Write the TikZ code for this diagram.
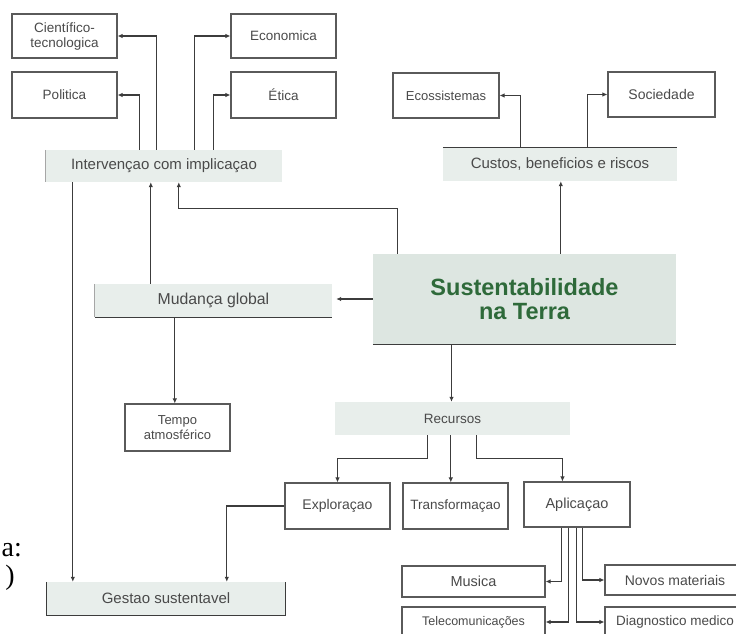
\documentclass[tikz,border=0pt]{standalone}
\usepackage{fontspec}
\setmainfont{Liberation Sans}
\newfontfamily\serifa{Liberation Serif}
\usetikzlibrary{arrows.meta}
\definecolor{linec}{HTML}{3C3C3C}
\definecolor{txt}{HTML}{4A4A4A}
\definecolor{barfill}{HTML}{E8EEEB}
\definecolor{sustfill}{HTML}{DDE6E1}
\definecolor{sustgreen}{HTML}{2E6A3A}
\definecolor{boxline}{HTML}{5A5A5A}
\begin{document}
\begin{tikzpicture}[x=1pt,y=-1pt,
  box/.style={draw=boxline, line width=1.1pt, fill=white, text=txt, font=\fontsize{13.5}{15}\selectfont, align=center, inner sep=0pt},
  bar/.style={fill=barfill, text=txt, font=\fontsize{15}{17}\selectfont, inner sep=0pt},
  arr/.style={draw=linec, line width=1.1pt, -{Latex[length=5pt,width=4.5pt]}},
  edge/.style={draw=linec, line width=1.2pt},
  faint/.style={draw=gray!70, line width=1.1pt}]
\useasboundingbox (0,0) rectangle (736,633);
\clip (0,0) rectangle (736,633);

% top left group
\node[box, minimum width=105pt, minimum height=44pt] (cient) at (64.5,36) {Científico-\\tecnologica};
\node[box, minimum width=105pt, minimum height=46pt] (pol) at (64.5,95) {Politica};
\node[box, minimum width=105pt, minimum height=44pt] (econ) at (283.5,36) {Economica};
\node[box, minimum width=105pt, minimum height=46pt] (etica) at (283.5,95) {Ética};
\node[bar, minimum width=236pt, minimum height=32pt] (iv) at (164,166) {Intervençao com implicaçao};

% top right group
\node[box, minimum width=106pt, minimum height=45pt, font=\fontsize{13}{15}\selectfont] (ecos) at (446,95.5) {Ecossistemas};
\node[box, minimum width=107pt, minimum height=45pt, font=\fontsize{14}{15}\selectfont] (soc) at (661.5,94.5) {Sociedade};
\node[bar, minimum width=234pt, minimum height=33pt] (custos) at (560,164.5) {Custos, beneficios e riscos};

% center
\node[fill=sustfill, minimum width=303pt, minimum height=90pt, inner sep=0pt, text=sustgreen,
      font=\bfseries\fontsize{23.5}{24}\selectfont, align=center] (sust) at (524.5,299) {Sustentabilidade\\na Terra};
\node[bar, minimum width=237pt, minimum height=33pt, font=\fontsize{15.8}{17}\selectfont] (mud) at (213.5,300.5) {Mudança global};
\node[box, minimum width=105pt, minimum height=47pt, font=\fontsize{13}{15}\selectfont] (tempo) at (177.5,427.5) {Tempo\\atmosférico};

% resources
\node[bar, minimum width=235pt, minimum height=33pt, font=\fontsize{13.5}{15}\selectfont] (rec) at (452.5,418.5) {Recursos};
\node[box, minimum width=105pt, minimum height=46pt, font=\fontsize{14}{15}\selectfont] (expl) at (337.5,506) {Exploraçao};
\node[box, minimum width=105pt, minimum height=46pt] (trans) at (455.5,506) {Transformaçao};
\node[box, minimum width=106pt, minimum height=45pt, font=\fontsize{14.5}{15}\selectfont] (apl) at (577,504.5) {Aplicaçao};
\node[box, minimum width=143pt, minimum height=31pt, font=\fontsize{14.5}{15}\selectfont] (mus) at (473.5,581.5) {Musica};
\node[box, minimum width=143pt, minimum height=30pt, font=\fontsize{12.5}{14}\selectfont] (tel) at (473.5,622) {Telecomunicações};
\node[box, minimum width=140pt, minimum height=30pt, font=\fontsize{14}{15}\selectfont] (novos) at (675,580) {Novos materiais};
\node[box, minimum width=140pt, minimum height=30pt] (diag) at (675,622) {Diagnostico medico};
\node[bar, minimum width=238pt, minimum height=33pt] (gest) at (166,598.5) {Gestao sustentavel};

% stray page text
\node[font=\serifa\fontsize{28}{28}\selectfont, anchor=base east, inner sep=0pt] (sa) at (22,556) {a:};
\node[font=\serifa\fontsize{28}{28}\selectfont, anchor=base, inner sep=0pt] (sb) at (10,584) {)};

% partial borders of bars
\draw[faint] (iv.north west) -- (iv.south west);
\draw[edge] (custos.north west) -- (custos.north east);
\draw[faint] (mud.north west) -- (mud.south west);
\draw[edge] (mud.south west) -- (mud.south east);
\draw[edge] (sust.south west) -- (sust.south east);
\draw[edge] (gest.north west) -- (gest.south west) -- (gest.south east) -- (gest.north east);

% Intervencao outputs
\draw[arr] ([xshift=111pt]iv.north west) |- (cient.east);
\draw[arr] ([xshift=94pt]iv.north west) |- (pol.east);
\draw[arr] ([xshift=149pt]iv.north west) |- (econ.west);
\draw[arr] ([xshift=168pt]iv.north west) |- (etica.west);

% Custos outputs
\draw[arr] ([xshift=78pt]custos.north west) |- (ecos.east);
\draw[arr] ([xshift=145pt]custos.north west) |- (soc.west);

% Sustentabilidade connections
\coordinate (s1) at ([xshift=188pt]sust.north west);
\draw[arr] (s1) -- (s1 |- custos.south);
\coordinate (s2) at ([xshift=25pt]sust.north west);
\coordinate (ivin) at ([xshift=133pt]iv.south west);
\draw[arr] (s2) -- ++(0,-45) -| (ivin);
\draw[arr, shorten >=4pt] (sust.west) -- (mud.east |- sust.west);
\coordinate (s3) at ([xshift=-73pt]sust.south);
\draw[arr] (s3) -- (s3 |- rec.north);

% Mudanca
\coordinate (m1) at ([xshift=56pt]mud.north west);
\draw[arr] (m1) -- (m1 |- iv.south);
\coordinate (m2) at ([xshift=80pt]mud.south west);
\draw[arr] (m2) -- (m2 |- tempo.north);

% Recursos
\coordinate (r1) at ([xshift=93pt]rec.south west);
\draw[arr] (r1) -- ++(0,23) -| (expl.north);
\coordinate (r2) at ([xshift=116pt]rec.south west);
\draw[arr] (r2) -- (r2 |- trans.north);
\coordinate (r3) at ([xshift=142pt]rec.south west);
\coordinate (a0) at ([xshift=39pt]apl.north west);
\draw[arr] (r3) -- ++(0,23) -| (a0);

% Gestao
\coordinate (g2) at ([xshift=180pt]gest.north west);
\draw[arr] (expl.west) -| (g2);
\coordinate (i0) at ([xshift=27pt]iv.south west);
\draw[arr] (i0) -- (i0 |- gest.north);

% Aplicacao outputs
\draw[arr] ([xshift=38pt]apl.south west) |- (mus.east);
\draw[arr] ([xshift=45pt]apl.south west) |- (tel.east);
\draw[arr] ([xshift=53pt]apl.south west) |- (diag.west);
\draw[arr] ([xshift=59pt]apl.south west) |- (novos.west);
\end{tikzpicture}
\end{document}
